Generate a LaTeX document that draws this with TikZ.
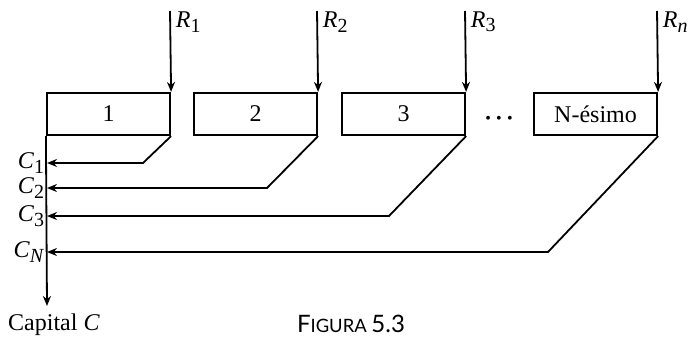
\documentclass[tikz,border=0pt]{standalone}
\usepackage{fontspec}
\setmainfont{Liberation Serif}
\newfontfamily\capfont{Lato}
\usepackage{tikz}
\usetikzlibrary{arrows,arrows.meta,calc,positioning}
\newcommand{\sbs}[1]{\raisebox{-0.4ex}{\fontsize{10}{12}\selectfont #1}}

\begin{document}
\begin{tikzpicture}[x=0.5pt,y=-0.5pt,font=\fontsize{12}{14}\selectfont,
	every path/.style={line width=0.9pt},>={Stealth[length=5pt,width=4pt,inset=1.6pt]},
	stage/.style={draw,line width=1.1pt,rectangle,minimum width=61.5pt,minimum height=21pt,inner sep=0pt},
	flow/.style={->,line width=0.9pt}]
	\useasboundingbox (0,0) rectangle (688,337);

	\node[stage] (b1) at (108.5,114) {1};
	\node[stage] (b2) at (255.5,114) {2};
	\node[stage] (b3) at (403.5,114) {3};
	\node[stage] (b4) at (595.5,114) {N-ésimo};
	\node (dots) at (499,120) {\footnotesize\textbullet\hspace{2.6pt}\textbullet\hspace{2.6pt}\textbullet};

	\coordinate (r1) at (170,11);
	\coordinate (r2) at (317,11);
	\coordinate (r3) at (465,11);
	\coordinate (r4) at (657,11);
	\draw[flow] (r1) -- (b1.north east);
	\draw[flow] (r2) -- (b2.north east);
	\draw[flow] (r3) -- (b3.north east);
	\draw[flow] (r4) -- (b4.north east);
	\node[anchor=west,inner sep=1pt] at (173,22) {\textit{R}\sbs{1}};
	\node[anchor=west,inner sep=1pt] at (320,22) {\textit{R}\sbs{2}};
	\node[anchor=west,inner sep=1pt] at (468,22) {\textit{R}\sbs{3}};
	\node[anchor=west,inner sep=1pt] at (660,22) {\textit{R}\sbs{\textit{n}}};

	\coordinate (cap) at (47,306);
	\coordinate (c1) at (47,163);
	\coordinate (c2) at (47,188);
	\coordinate (c3) at (47,216);
	\coordinate (c4) at (47,252);
	\draw[flow] (b1.south west) -- (cap);
	\draw[flow] (b1.south east) -- (143,163) -- (c1);
	\draw[flow] (b2.south east) -- (267,188) -- (c2);
	\draw[flow] (b3.south east) -- (389,216) -- (c3);
	\draw[flow] (b4.south east) -- (548,252) -- (c4);
	\node[anchor=east,inner sep=1pt] at (c1) {\textit{C}\sbs{1}};
	\node[anchor=east,inner sep=1pt] at (c2) {\textit{C}\sbs{2}};
	\node[anchor=east,inner sep=1pt] at (c3) {\textit{C}\sbs{3}};
	\node[anchor=east,inner sep=1pt] at (c4) {\textit{C}\sbs{\textit{N}}};

	\node (capital) at (54,325) {Capital \textit{C}};
	\node (fig) at (351,324) {\capfont\fontsize{12}{14}\selectfont F\fontsize{9.2}{11}\selectfont IGURA \fontsize{12}{14}\selectfont 5.3};
\end{tikzpicture}
\end{document}
